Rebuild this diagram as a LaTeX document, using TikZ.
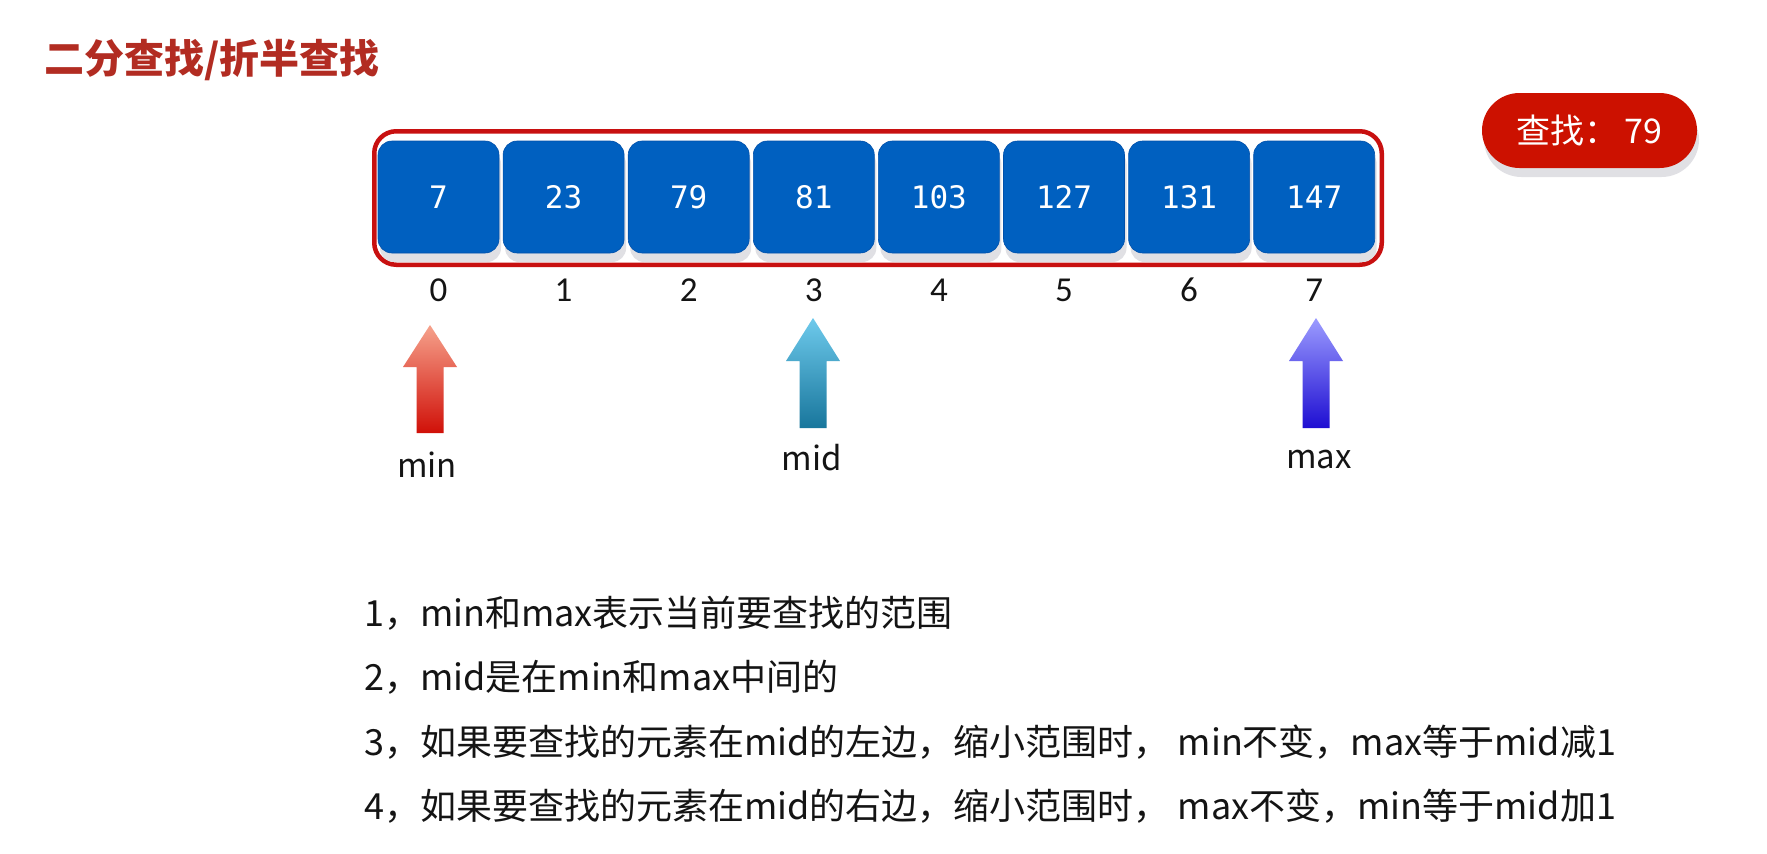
\documentclass[tikz,border=0pt]{standalone}
\usepackage{fontspec}
\usetikzlibrary{shadows}
\newfontfamily\cjk{Noto Sans CJK SC}
\newfontfamily\monofnt{DejaVu Sans Mono}
\newfontfamily\calfnt{Carlito}
\definecolor{boxblue}{RGB}{0,96,192}
\definecolor{boxedge}{RGB}{0,80,170}
\definecolor{framered}{RGB}{200,16,16}
\definecolor{titlered}{RGB}{178,44,34}
\definecolor{pillred}{RGB}{204,17,0}
\definecolor{shadowgray}{RGB}{224,224,228}
\definecolor{inktext}{RGB}{20,20,20}
\tikzset{
  valbox/.style={fill=boxblue, draw=boxedge, line width=0.6pt, rounded corners=14pt,
    minimum width=121pt, minimum height=112pt, inner sep=0pt, text=white,
    font=\monofnt\fontsize{31}{36}\selectfont,
    drop shadow={fill=shadowgray, opacity=1, shadow xshift=2pt, shadow yshift=-9pt}},
  idxlabel/.style={text=inktext, inner sep=0pt, font=\calfnt\fontsize{35}{40}\selectfont},
  ptrlabel/.style={text=inktext, inner sep=0pt, font=\cjk\fontsize{33}{38}\selectfont},
  noteline/.style={anchor=west, text=inktext, inner sep=0pt, font=\cjk\fontsize{36}{42}\selectfont},
}
\begin{document}
\begin{tikzpicture}[x=1pt,y=-1pt]
\useasboundingbox (0,0) rectangle (1767,854);
\fill[white] (0,0) rectangle (1767,854);
% title
\node[anchor=west, inner sep=0pt, text=titlered, font=\cjk\bfseries\fontsize{40}{48}\selectfont] (title) at (44,60) {二分查找/折半查找};
% search pill
\node[fill=pillred, rounded corners=37.5pt, minimum width=215pt, minimum height=75pt, inner sep=0pt,
  text=white, font=\cjk\fontsize{34}{40}\selectfont,
  drop shadow={fill=shadowgray, opacity=1, shadow xshift=2pt, shadow yshift=-9pt}] (pill) at (1589.5,130.5) {查找：\,79};
% frame
\node[draw=framered, line width=4.5pt, rounded corners=22pt, minimum width=1007.5pt, minimum height=133.5pt, inner sep=0pt] (frame) at (878,198) {};
% boxes and indices
\foreach \v [count=\i from 0] in {7,23,79,81,103,127,131,147}{
  \node[valbox] (b\i) at ({438.5+\i*125.1},197) {\v};
  \node[idxlabel] (i\i) at ({438.5+\i*125.1},290) {\i};
}
% pointer arrows
\shade[top color={rgb,255:red,246;green,162;blue,140}, bottom color={rgb,255:red,208;green,16;blue,8}]
  (430,325) -- (457,367) -- (443.5,367) -- (443.5,433) -- (416.5,433) -- (416.5,367) -- (403,367) -- cycle;
\shade[top color={rgb,255:red,110;green,202;blue,236}, bottom color={rgb,255:red,24;green,118;blue,156}]
  (813,318) -- (840,361) -- (826.5,361) -- (826.5,428) -- (799.5,428) -- (799.5,361) -- (786,361) -- cycle;
\shade[top color={rgb,255:red,156;green,156;blue,255}, bottom color={rgb,255:red,30;green,14;blue,210}]
  (1316,318) -- (1343,361) -- (1329.5,361) -- (1329.5,428) -- (1302.5,428) -- (1302.5,361) -- (1289,361) -- cycle;
\node[ptrlabel] (lmin) at (427,465) {min};
\node[ptrlabel] (lmid) at (812,458) {mid};
\node[ptrlabel] (lmax) at (1319,460) {max};
% notes
\node[noteline] (t1) at (364,613) {1，min和max表示当前要查找的范围};
\node[noteline] (t2) at (364,677) {2，mid是在min和max中间的};
\node[noteline] (t3) at (364,742) {3，如果要查找的元素在mid的左边，缩小范围时，\ min不变，max等于mid减1};
\node[noteline] (t4) at (364,806) {4，如果要查找的元素在mid的右边，缩小范围时，\ max不变，min等于mid加1};
\end{tikzpicture}
\end{document}
